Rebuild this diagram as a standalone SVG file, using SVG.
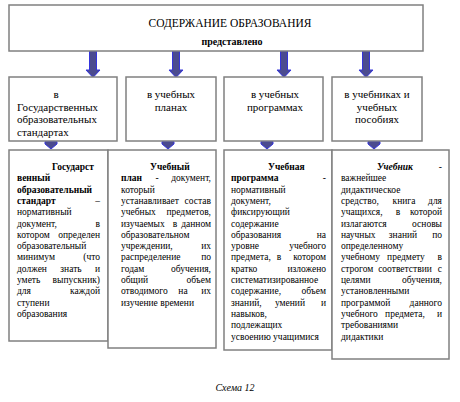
<svg xmlns="http://www.w3.org/2000/svg" width="460" height="402" viewBox="0 0 460 402">
<style>
.box{fill:#fff;stroke:#808080;stroke-width:1.5}
.t{font-family:"Liberation Serif","Times New Roman",Tinos,"Noto Serif","DejaVu Serif",serif;font-size:9.5px;fill:#000}
.h{font-size:11px}
.b{font-weight:bold}
.i{font-style:italic}
.e{text-anchor:end}
.m{text-anchor:middle}
.arr{fill:#4b4b8f;stroke:#3434dc;stroke-width:1}
</style>
<rect width="460" height="402" fill="#fff"/>
<g id="connectors">
<polygon class="arr" points="89.5,51 96.5,51 96.5,70 100,70 93,77.5 86,70 89.5,70"/>
<polygon class="arr" points="172.5,51 179.5,51 179.5,70 183,70 176,77.5 169,70 172.5,70"/>
<polygon class="arr" points="280.5,51 287.5,51 287.5,70 291,70 284,77.5 277,70 280.5,70"/>
<polygon class="arr" points="362.5,51 369.5,51 369.5,70 373,70 366,77.5 359,70 362.5,70"/>
<polygon class="arr" points="45,141.5 57,141.5 57,144 51,149 45,144"/>
<polygon class="arr" points="162,141.5 174,141.5 174,144 168,149 162,144"/>
<polygon class="arr" points="261,141.5 273,141.5 273,144 267,149 261,144"/>
<polygon class="arr" points="368,141.5 380,141.5 380,144 374,149 368,144"/>
</g>
<g id="top">
<rect class="box" x="9" y="5" width="414" height="46"/>
<text class="t m" x="230" y="27" style="font-size:11.5px">СОДЕРЖАНИЕ ОБРАЗОВАНИЯ</text>
<text class="t b m" x="232" y="45" style="font-size:10px">представлено</text>
</g>
<g id="n-standards">
<rect class="box" x="9" y="77" width="108" height="64"/>
<text class="t h m" x="56" y="98">в</text>
<text class="t h" x="17" y="110.5">Государственных</text>
<text class="t h" x="17" y="123">образовательных</text>
<text class="t h" x="17" y="135.5">стандартах</text>
</g>
<g id="n-plans">
<rect class="box" x="126" y="77" width="90" height="64"/>
<text class="t h m" x="171" y="98">в учебных</text>
<text class="t h m" x="171" y="110.5">планах</text>
</g>
<g id="n-programs">
<rect class="box" x="224" y="77" width="99" height="64"/>
<text class="t h m" x="275" y="98">в учебных</text>
<text class="t h m" x="275" y="110.5">программах</text>
</g>
<g id="n-textbooks">
<rect class="box" x="332" y="77" width="90" height="64"/>
<text class="t h m" x="377" y="98">в учебниках и</text>
<text class="t h m" x="377" y="110.5">учебных</text>
<text class="t h m" x="377" y="123">пособиях</text>
</g>
<g id="d-standard">
<rect class="box" x="9" y="150" width="99" height="191"/>
<text class="t b" x="52" y="170">Государст</text>
<text class="t b" x="17" y="181.3">венный</text>
<text class="t b" x="17" y="192.6">образовательный</text>
<text class="t b" x="17" y="203.9">стандарт</text><text class="t e" x="100" y="203.9">–</text>
<text class="t" x="17" y="215.2">нормативный</text>
<text class="t" x="17" y="226.5">документ,</text><text class="t e" x="100" y="226.5">в</text>
<text class="t" x="17" y="237.8">котором</text><text class="t e" x="100" y="237.8">определен</text>
<text class="t" x="17" y="249.1">образовательный</text>
<text class="t" x="17" y="260.4">минимум</text><text class="t e" x="100" y="260.4">(что</text>
<text class="t" x="17" y="271.7">должен</text><text class="t m" x="71" y="271.7">знать</text><text class="t e" x="100" y="271.7">и</text>
<text class="t" x="17" y="283">уметь</text><text class="t e" x="100" y="283">выпускник)</text>
<text class="t" x="17" y="294.3">для</text><text class="t e" x="100" y="294.3">каждой</text>
<text class="t" x="17" y="305.6">ступени</text>
<text class="t" x="17" y="316.9">образования</text>
</g>
<g id="d-plan">
<rect class="box" x="108" y="150" width="108" height="198"/>
<text class="t b" x="150" y="170">Учебный</text>
<text class="t b" x="121" y="181.3">план</text><text class="t m" x="157" y="181.3">-</text><text class="t e" x="211" y="181.3">документ,</text>
<text class="t" x="121" y="192.6">который</text>
<text class="t" x="121" y="203.9">устанавливает</text><text class="t e" x="211" y="203.9">состав</text>
<text class="t" x="121" y="215.2">учебных</text><text class="t e" x="211" y="215.2">предметов,</text>
<text class="t" x="121" y="226.5">изучаемых</text><text class="t m" x="175" y="226.5">в</text><text class="t e" x="211" y="226.5">данном</text>
<text class="t" x="121" y="237.8">образовательном</text>
<text class="t" x="121" y="249.1">учреждении,</text><text class="t e" x="211" y="249.1">их</text>
<text class="t" x="121" y="260.4">распределение</text><text class="t e" x="211" y="260.4">по</text>
<text class="t" x="121" y="271.7">годам</text><text class="t e" x="211" y="271.7">обучения,</text>
<text class="t" x="121" y="283">общий</text><text class="t e" x="211" y="283">объем</text>
<text class="t" x="121" y="294.3">отводимого</text><text class="t m" x="183" y="294.3">на</text><text class="t e" x="211" y="294.3">их</text>
<text class="t" x="121" y="305.6">изучение времени</text>
</g>
<g id="d-program">
<rect class="box" x="224" y="150" width="108" height="200"/>
<text class="t b" x="268" y="170">Учебная</text>
<text class="t b" x="231" y="181.3">программа</text><text class="t e" x="326" y="181.3">-</text>
<text class="t" x="231" y="192.6">нормативный</text>
<text class="t" x="231" y="203.9">документ,</text>
<text class="t" x="231" y="215.2">фиксирующий</text>
<text class="t" x="231" y="226.5">содержание</text>
<text class="t" x="231" y="237.8">образования</text><text class="t e" x="326" y="237.8">на</text>
<text class="t" x="231" y="249.1">уровне</text><text class="t e" x="326" y="249.1">учебного</text>
<text class="t" x="231" y="260.4">предмета,</text><text class="t m" x="279" y="260.4">в</text><text class="t e" x="326" y="260.4">котором</text>
<text class="t" x="231" y="271.7">кратко</text><text class="t e" x="326" y="271.7">изложено</text>
<text class="t" x="231" y="283">систематизированное</text>
<text class="t" x="231" y="294.3">содержание,</text><text class="t e" x="326" y="294.3">объем</text>
<text class="t" x="231" y="305.6">знаний,</text><text class="t m" x="290" y="305.6">умений</text><text class="t e" x="326" y="305.6">и</text>
<text class="t" x="231" y="316.9">навыков,</text>
<text class="t" x="231" y="328.2">подлежащих</text>
<text class="t" x="231" y="339.5">усвоению учащимися</text>
</g>
<g id="d-textbook">
<rect class="box" x="332" y="150" width="117" height="209"/>
<text class="t b i" x="377" y="170">Учебник</text><text class="t e" x="442" y="170">-</text>
<text class="t" x="341" y="181.3">важнейшее</text>
<text class="t" x="341" y="192.6">дидактическое</text>
<text class="t" x="341" y="203.9">средство,</text><text class="t m" x="404" y="203.9">книга</text><text class="t e" x="442" y="203.9">для</text>
<text class="t" x="341" y="215.2">учащихся,</text><text class="t m" x="398" y="215.2">в</text><text class="t e" x="442" y="215.2">которой</text>
<text class="t" x="341" y="226.5">излагаются</text><text class="t e" x="442" y="226.5">основы</text>
<text class="t" x="341" y="237.8">научных</text><text class="t m" x="403" y="237.8">знаний</text><text class="t e" x="442" y="237.8">по</text>
<text class="t" x="341" y="249.1">определенному</text>
<text class="t" x="341" y="260.4">учебному</text><text class="t m" x="406" y="260.4">предмету</text><text class="t e" x="442" y="260.4">в</text>
<text class="t" x="341" y="271.7">строгом</text><text class="t m" x="405" y="271.7">соответствии</text><text class="t e" x="442" y="271.7">с</text>
<text class="t" x="341" y="283">целями</text><text class="t e" x="442" y="283">обучения,</text>
<text class="t" x="341" y="294.3">установленными</text>
<text class="t" x="341" y="305.6">программой</text><text class="t e" x="442" y="305.6">данного</text>
<text class="t" x="341" y="316.9">учебного</text><text class="t m" x="405" y="316.9">предмета,</text><text class="t e" x="442" y="316.9">и</text>
<text class="t" x="341" y="328.2">требованиями</text>
<text class="t" x="341" y="339.5">дидактики</text>
</g>
<text class="t i m" x="235" y="391" style="font-size:10px">Схема 12</text>
</svg>
